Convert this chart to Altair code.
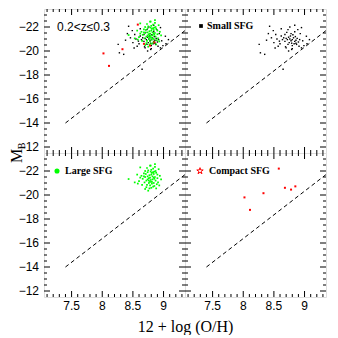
import altair as alt
import pandas as pd

# ---------------- data ----------------
small_x = [8.43, 8.49, 8.53, 8.46, 8.26, 8.28, 8.35, 8.65, 8.84, 8.89, 9.03, 9.04, 8.73, 8.68, 8.59, 8.57, 8.70, 8.79, 8.95, 8.87,
           8.74, 8.76, 8.78, 8.80, 8.82, 8.84, 8.86, 8.75, 8.79, 8.83, 8.72, 8.70, 8.77, 8.81, 8.85, 8.88, 8.90, 8.73, 8.68, 8.66,
           8.64, 8.62, 8.80, 8.92, 8.86, 8.78, 8.71, 8.84, 8.93, 8.97, 8.60, 8.55, 8.50, 8.62, 8.76, 8.95, 9.08, 8.99, 8.52, 8.41,
           8.38, 8.80, 8.69, 8.91, 8.74]
small_y = [-22.06, -21.70, -21.37, -21.10, -20.55, -19.85, -19.72, -18.48, -22.14, -21.78, -21.23, -20.60, -21.78, -21.37, -20.82, -20.40, -20.26, -20.13, -20.26, -20.55,
           -21.15, -21.00, -20.85, -20.95, -21.10, -20.80, -20.90, -20.70, -20.65, -20.60, -20.95, -21.05, -21.25, -21.35, -21.20, -21.05, -20.75, -20.55, -20.80, -21.10,
           -20.95, -21.25, -20.45, -20.95, -20.65, -21.45, -21.55, -21.60, -21.45, -20.85, -20.60, -21.00, -20.70, -21.85, -22.00, -21.95, -20.95, -20.45, -20.25, -21.45,
           -20.90, -20.20, -20.35, -20.40, -20.00]

large_x = [8.43, 8.53, 8.62, 8.64, 8.78, 8.86, 8.91, 8.94, 8.70, 8.75,
           8.68, 8.70, 8.72, 8.74, 8.76, 8.78, 8.80, 8.82, 8.84, 8.86, 8.88, 8.80, 8.83, 8.77, 8.79, 8.81, 8.73, 8.85, 8.69, 8.87,
           8.75, 8.71, 8.90, 8.78, 8.82, 8.76, 8.84, 8.66, 8.89, 8.81, 8.74, 8.79, 8.85, 8.72, 8.83, 8.77, 8.87, 8.60, 8.57, 8.92,
           8.96, 8.65, 8.80, 8.88, 8.73, 8.86, 8.79, 8.70, 8.84, 8.76, 8.81, 8.78, 8.74, 8.83, 8.68, 8.90, 8.85, 8.62, 8.58, 8.93]
large_y = [-21.33, -21.05, -22.30, -21.60, -22.44, -22.58, -21.05, -21.60, -20.50, -20.36,
           -21.80, -21.50, -21.20, -21.90, -21.40, -21.10, -21.70, -21.30, -21.00, -21.50, -21.85, -22.10, -22.20, -21.65, -21.25, -20.95, -20.85, -20.75, -21.05, -21.20,
           -22.05, -21.75, -21.40, -20.80, -21.55, -21.00, -21.75, -21.35, -20.90, -21.85, -21.55, -21.95, -21.35, -20.65, -20.70, -20.55, -22.00, -21.15, -21.70, -22.15,
           -21.30, -20.85, -20.60, -20.55, -22.25, -22.35, -22.45, -22.00, -21.45, -21.20, -21.10, -21.45, -21.30, -21.90, -21.55, -21.70, -21.95, -21.45, -20.95, -20.80]

compact_x = [8.02, 8.11, 8.33, 8.58, 8.68, 8.78, 8.85]
compact_y = [-19.80, -18.76, -20.15, -22.20, -20.60, -20.45, -20.72]

line_x = [7.40, 9.35]
line_y = [-14.0, -21.7]

x_major = [7.5, 8.0, 8.5, 9.0]
x_minor = [7.1, 7.2, 7.3, 7.4, 7.6, 7.7, 7.8, 7.9, 8.1, 8.2, 8.3, 8.4, 8.6, 8.7, 8.8, 8.9, 9.1, 9.2, 9.3]
y_major = [-22, -20, -18, -16, -14, -12]
y_minor = [-23, -22.5, -21.5, -21, -20.5, -19.5, -19, -18.5, -17.5, -17, -16.5, -15.5, -15, -14.5, -13.5, -13, -12.5]

label_z = "0.2<z≤0.3"
label_small = "Small SFG"
label_large = "Large SFG"
label_compact = "Compact SFG"
x_title = "12 + log (O/H)"

# ---------------- helpers ----------------
W, H = 141, 144
XS = alt.Scale(domain=[7.05, 9.35], nice=False, zero=False)
YS = alt.Scale(domain=[-23.5, -11.5], reverse=True, nice=False, zero=False)
STAR = "M0,-1L0.2245,-0.309L0.951,-0.309L0.363,0.118L0.588,0.809L0,0.382L-0.588,0.809L-0.363,0.118L-0.951,-0.309L-0.2245,-0.309Z"

small_df = pd.DataFrame({"x": small_x, "y": small_y})
large_df = pd.DataFrame({"x": large_x, "y": large_y})
compact_df = pd.DataFrame({"x": compact_x, "y": compact_y})
line_df = pd.DataFrame({"x": line_x, "y": line_y})


def tick_layers():
    out = []
    for vals, ln in ((x_major, 6), (x_minor, 3)):
        df = pd.DataFrame({"v": vals})
        for y0, y1 in ((0, ln), (H, H - ln)):
            out.append(alt.Chart(df).mark_rule(color="black", strokeWidth=1).encode(
                x=alt.X("v:Q", scale=XS, axis=None),
                y=alt.value(y0), y2=alt.value(y1)))
    for vals, ln in ((y_major, 6), (y_minor, 3)):
        df = pd.DataFrame({"v": vals})
        for x0, x1 in ((0, ln), (W, W - ln)):
            out.append(alt.Chart(df).mark_rule(color="black", strokeWidth=1).encode(
                y=alt.Y("v:Q", scale=YS, axis=None),
                x=alt.value(x0), x2=alt.value(x1)))
    return out


def xlabels():
    return alt.Chart(pd.DataFrame({"v": x_major})).mark_text(
        fontSize=12, font="Liberation Sans", baseline="top", align="center", color="black").encode(
        x=alt.X("v:Q", scale=XS, axis=None), y=alt.value(H + 4),
        text=alt.Text("v:Q", format=".1~f"))


def ylabels():
    return alt.Chart(pd.DataFrame({"v": y_major})).mark_text(
        fontSize=12, font="Liberation Sans", baseline="middle", align="right", color="black").encode(
        y=alt.Y("v:Q", scale=YS, axis=None), x=alt.value(-5),
        text=alt.Text("v:Q", format="d"))


def pts(df, color, size):
    return alt.Chart(df).mark_square(size=size, color=color, opacity=1, strokeWidth=0).encode(
        x=alt.X("x:Q", scale=XS, axis=None), y=alt.Y("y:Q", scale=YS, axis=None))


def text(t, x, y, size, font, weight="normal", angle=0, align="left"):
    return alt.Chart(pd.DataFrame({"t": [t]})).mark_text(
        fontSize=size, font=font, fontWeight=weight, angle=angle, align=align,
        baseline="middle", color="black").encode(
        text="t:N", x=alt.value(x), y=alt.value(y))


def base_line():
    return alt.Chart(line_df).mark_line(color="black", strokeWidth=1, strokeDash=[4, 3]).encode(
        x=alt.X("x:Q", scale=XS, axis=None), y=alt.Y("y:Q", scale=YS, axis=None))


# top-left: all samples
tl = alt.layer(
    base_line(),
    pts(small_df, "black", 2), pts(large_df, "#00ff00", 3), pts(compact_df, "#ff0000", 4),
    *tick_layers(), ylabels(),
    text(label_z, 13, 18, 12, "Liberation Sans"),
    text("M", -27, 147, 16, "Liberation Serif", angle=270, align="center"),
    text("B", -22, 137, 10, "Liberation Serif", angle=270, align="center"),
).properties(width=W, height=H)

# top-right: small SFG
tr = alt.layer(
    base_line(),
    pts(small_df, "black", 2),
    *tick_layers(),
    alt.Chart(pd.DataFrame({"t": [label_small]})).mark_square(size=14, color="black", opacity=1).encode(
        x=alt.value(16), y=alt.value(17)),
    text(label_small, 22, 17, 10, "Liberation Serif", weight="bold"),
).properties(width=W, height=H)

# bottom-left: large SFG
bl = alt.layer(
    base_line(),
    pts(large_df, "#00ff00", 3),
    *tick_layers(), xlabels(), ylabels(),
    alt.Chart(pd.DataFrame({"t": [label_large]})).mark_circle(size=26, color="#00ff00", opacity=1).encode(
        x=alt.value(13), y=alt.value(18)),
    text(label_large, 21, 18, 10, "Liberation Serif", weight="bold"),
).properties(width=W, height=H)

# bottom-right: compact SFG
br = alt.layer(
    base_line(),
    pts(compact_df, "#ff0000", 4),
    *tick_layers(), xlabels(),
    alt.Chart(pd.DataFrame({"t": [label_compact]})).mark_point(
        shape=STAR, size=45, color="#ff0000", filled=False, strokeWidth=1, opacity=1).encode(
        x=alt.value(15), y=alt.value(18)),
    text(label_compact, 24, 18, 10, "Liberation Serif", weight="bold"),
).properties(width=W, height=H)

chart = alt.concat(tl, tr, bl, br, columns=2, spacing=0, bounds="flush").properties(
    padding=0,
    title=alt.TitleParams(x_title, orient="bottom", anchor="middle", font="Liberation Serif",
                          fontSize=16, fontWeight="normal", color="black", offset=6, dx=17)
).configure_view(
    stroke="black", strokeWidth=1.2
).configure(background="white")

chart.save("out.html", embed_options={"renderer": "svg", "actions": False})
